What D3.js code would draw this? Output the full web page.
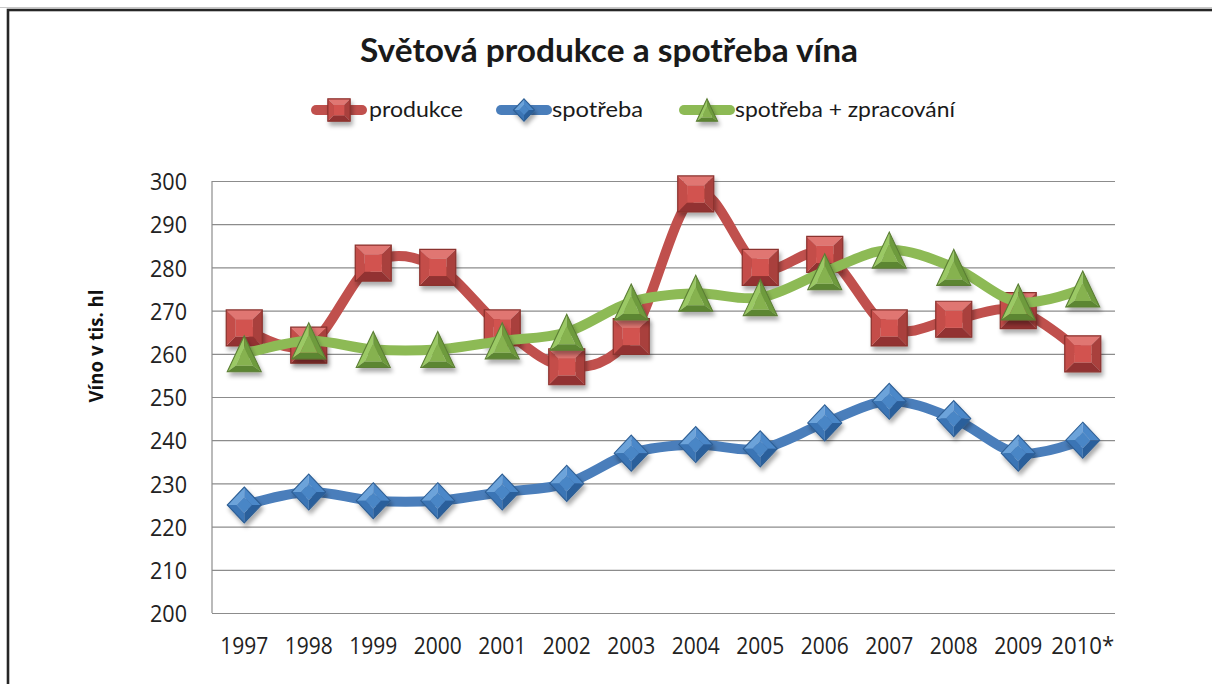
<!DOCTYPE html>
<html><head><meta charset="utf-8">
<script src="https://cdn.jsdelivr.net/npm/d3@7"></script>
<style>body{margin:0;background:#fff;overflow:hidden}</style>
</head><body><svg id="c" width="1212" height="684"></svg>
<script>
const years = ["1997","1998","1999","2000","2001","2002","2003","2004","2005","2006","2007","2008","2009","2010*"];
const produkce = [266, 262, 281, 280, 266, 257, 264, 297, 280, 283, 266, 268, 270, 260];
const spotreba = [225, 228, 226, 226, 228, 230, 237, 239, 238, 244, 249, 245, 237, 240];
const spotrebaZprac = [260, 263, 261, 261, 263, 265, 272, 274, 273, 279, 284, 280, 272, 275];
const yTicks = [200, 210, 220, 230, 240, 250, 260, 270, 280, 290, 300];
const seriesNames = ["produkce", "spotřeba", "spotřeba + zpracování"];
const titleText = "Světová produkce a spotřeba vína";
const yTitleText = "Víno v tis. hl";

const svg = d3.select("#c");
const M = {left: 212, right: 1115, top: 181, bottom: 613};
const x = d3.scaleBand().domain(years).range([M.left, M.right]);
const cx = d => x(d) + x.bandwidth() / 2;
const y = d3.scaleLinear().domain([200, 300]).range([M.bottom, M.top]);

const defs = svg.append("defs");
const f = defs.append("filter").attr("id", "sh").attr("x", "-50%").attr("y", "-50%").attr("width", "200%").attr("height", "200%");
f.append("feDropShadow").attr("dx", 2).attr("dy", 4).attr("stdDeviation", 2.2).attr("flood-color", "#000").attr("flood-opacity", 0.33);

// frame
svg.append("line").attr("x1", 0).attr("x2", 1212).attr("y1", 7.5).attr("y2", 7.5).attr("stroke", "#c8c8c8").attr("stroke-width", 1);
svg.append("rect").attr("x", 8).attr("y", 10).attr("width", 1260).attr("height", 720)
  .attr("fill", "none").attr("stroke", "#262626").attr("stroke-width", 2.6);

// title
svg.append("text").attr("x", 609).attr("y", 62).attr("text-anchor", "middle")
  .attr("font-family", "Lato, 'Open Sans', sans-serif").attr("font-weight", "bold").attr("font-size", 33)
  .attr("fill", "#1a1a1a").attr("textLength", 498).attr("lengthAdjust", "spacingAndGlyphs").text(titleText);

// gridlines
svg.append("g").attr("transform", `translate(${M.left},0)`)
  .call(d3.axisLeft(y).tickValues(yTicks).tickSize(-(M.right - M.left)).tickFormat(""))
  .call(g => g.select(".domain").remove())
  .call(g => g.selectAll("line").attr("stroke", "#8c8c8c").attr("stroke-width", 1.2));
svg.append("line").attr("x1", M.left).attr("x2", M.left).attr("y1", M.top).attr("y2", M.bottom)
  .attr("stroke", "#8c8c8c").attr("stroke-width", 1.2);

// y tick labels
svg.append("g").attr("transform", `translate(${M.left},0)`)
  .call(d3.axisLeft(y).tickValues(yTicks).tickSize(0).tickPadding(25))
  .call(g => g.select(".domain").remove())
  .call(g => g.selectAll("text").attr("font-family", "'Open Sans', sans-serif").attr("font-size", 24)
    .attr("fill", "#222").attr("textLength", 37).attr("lengthAdjust", "spacingAndGlyphs").attr("dy", "0.36em"));

// x tick labels
svg.append("g").attr("transform", `translate(0,${M.bottom})`)
  .call(d3.axisBottom(x).tickSize(0).tickPadding(24))
  .call(g => g.select(".domain").remove())
  .call(g => g.selectAll("text").attr("font-family", "'Open Sans', sans-serif").attr("font-size", 24)
    .attr("fill", "#222").attr("textLength", d => d.length > 4 ? 63 : 48).attr("lengthAdjust", "spacingAndGlyphs"));

// y title
svg.append("text").attr("transform", "translate(103,346) rotate(-90)").attr("text-anchor", "middle")
  .attr("font-family", "'Open Sans', sans-serif").attr("font-weight", "bold").attr("font-size", 20)
  .attr("fill", "#111").attr("textLength", 113).attr("lengthAdjust", "spacingAndGlyphs").text(yTitleText);

// marker drawers
const P = pts => "M" + pts.map(p => p.join(",")).join("L") + "Z";
function square(g, s, c) {
  const h = s / 2, b = s * 0.26, i = h - b;
  g.append("path").attr("d", P([[-h,-h],[h,-h],[i,-i],[-i,-i]])).attr("fill", c.top);
  g.append("path").attr("d", P([[h,-h],[h,h],[i,i],[i,-i]])).attr("fill", c.right);
  g.append("path").attr("d", P([[h,h],[-h,h],[-i,i],[i,i]])).attr("fill", c.bottom);
  g.append("path").attr("d", P([[-h,h],[-h,-h],[-i,-i],[-i,i]])).attr("fill", c.left);
  g.append("path").attr("d", P([[-i,-i],[i,-i],[i,i],[-i,i]])).attr("fill", c.base);
  g.append("path").attr("d", P([[-h,-h],[h,-h],[h,h],[-h,h]])).attr("fill", "none").attr("stroke", c.stroke).attr("stroke-width", 1.2);
}
function triangle(g, w, hh, c) {
  const h = hh / 2, A = [0,-h], B = [-w/2,h], C = [w/2,h];
  const gc = [0, h / 3], k = 0.5;
  const sc = p => [gc[0] + (p[0]-gc[0]) * k, gc[1] + (p[1]-gc[1]) * k];
  const Ai = sc(A), Bi = sc(B), Ci = sc(C);
  g.append("path").attr("d", P([A,B,Bi,Ai])).attr("fill", c.left);
  g.append("path").attr("d", P([A,C,Ci,Ai])).attr("fill", c.right);
  g.append("path").attr("d", P([B,C,Ci,Bi])).attr("fill", c.bottom);
  g.append("path").attr("d", P([Ai,Bi,Ci])).attr("fill", c.base);
  g.append("path").attr("d", P([A,B,C])).attr("fill", "none").attr("stroke", c.stroke).attr("stroke-width", 1.1);
}
function diamond(g, w, hh, c) {
  const h = hh / 2, k = 0.45;
  const T = [0,-h], R = [w/2,0], B = [0,h], L = [-w/2,0];
  const sc = p => [p[0]*k, p[1]*k];
  const Ti = sc(T), Ri = sc(R), Bi = sc(B), Li = sc(L);
  g.append("path").attr("d", P([T,L,Li,Ti])).attr("fill", c.tl);
  g.append("path").attr("d", P([T,R,Ri,Ti])).attr("fill", c.tr);
  g.append("path").attr("d", P([R,B,Bi,Ri])).attr("fill", c.br);
  g.append("path").attr("d", P([B,L,Li,Bi])).attr("fill", c.bl);
  g.append("path").attr("d", P([Ti,Ri,Bi,Li])).attr("fill", c.base);
  g.append("path").attr("d", P([T,R,B,L])).attr("fill", "none").attr("stroke", c.stroke).attr("stroke-width", 1.1);
}

const redC = {top:"#E07672", right:"#A9403D", bottom:"#923330", left:"#C44E4A", base:"#D2534F", stroke:"#8A302D"};
const blueC = {tl:"#6CA3DA", tr:"#4C88C9", br:"#2C5F9B", bl:"#3A74B5", base:"#4A86C6", stroke:"#2E5F95"};
const greenC = {left:"#9BC965", right:"#6E9B3D", bottom:"#5C8630", base:"#86B24F", stroke:"#5B7E34"};

const series = [
  {name: seriesNames[0], data: produkce, color: "#C0504D", mk: (g, s) => square(g, 36*s, redC)},
  {name: seriesNames[1], data: spotreba, color: "#4A7EBB", mk: (g, s) => diamond(g, 34*s, 36*s, blueC)},
  {name: seriesNames[2], data: spotrebaZprac, color: "#8DBA55", mk: (g, s) => triangle(g, 34*s, 36*s, greenC)}
];

const line = d3.line().x((d, i) => cx(years[i])).y(d => y(d)).curve(d3.curveCardinal.tension(0));
series.forEach(s => {
  const g = svg.append("g");
  g.append("path").attr("d", line(s.data)).attr("fill", "none").attr("stroke", s.color)
    .attr("stroke-width", 10).attr("stroke-linecap", "round").attr("stroke-linejoin", "round");
  s.data.forEach((v, i) => {
    const m = g.append("g").attr("transform", `translate(${cx(years[i])},${y(v)})`).attr("filter", "url(#sh)");
    s.mk(m, 1);
  });
});

// legend
const legX = [312, 497, 680], legTextX = [369, 552, 735], legW = [94, 91, 220];
series.forEach((s, i) => {
  const g = svg.append("g");
  g.append("line").attr("x1", legX[i] + 4).attr("x2", legX[i] + 50).attr("y1", 110).attr("y2", 110)
    .attr("stroke", s.color).attr("stroke-width", 10).attr("stroke-linecap", "round");
  const m = g.append("g").attr("transform", `translate(${legX[i] + 27},110)`).attr("filter", "url(#sh)");
  s.mk(m, 0.62);
  g.append("text").attr("x", legTextX[i]).attr("y", 117).attr("font-family", "Lato, 'Open Sans', sans-serif")
    .attr("font-size", 22).attr("fill", "#1a1a1a").attr("textLength", legW[i]).attr("lengthAdjust", "spacingAndGlyphs").text(s.name);
});
</script></body></html>
